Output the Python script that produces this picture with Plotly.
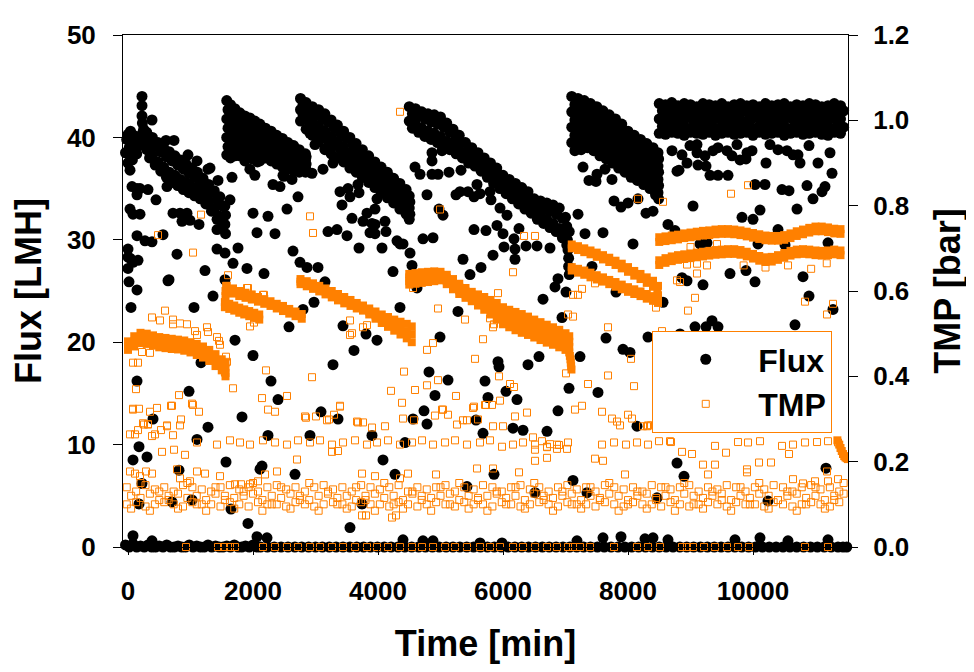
import plotly.graph_objects as go

# ── colours / fonts ──────────────────────────────────────────────────────────
ORANGE = "#FF8000"
FONT = "Arial, Liberation Sans, sans-serif"

# ── Flux [LMH] : dense bands of each filtration cycle ───────────────────────
# rows of readings share a list of sampling times (two interleaved time lists per cycle)
flux_c1_ta = [300, 390, 480, 570, 660, 750, 840, 930, 1020, 1110, 1200, 1290, 1380, 1470, 1550]
flux_c1_tb = [345, 435, 525, 615, 705, 795, 885, 975, 1065, 1155, 1245, 1335, 1425, 1510, 1560]
flux_c1_r1 = [40.5, 40.0, 39.5, 39.0, 38.6, 38.2, 37.8, 37.4, 37.0, 36.6, 36.0, 35.4, 34.8, 34.2, 33.3]
flux_c1_r2 = [39.6, 39.1, 38.6, 38.1, 37.7, 37.3, 36.9, 36.5, 36.1, 35.7, 35.2, 34.6, 33.9, 33.3, 32.4]
flux_c1_r3 = [38.8, 38.2, 37.6, 37.1, 36.6, 36.3, 35.9, 35.6, 35.2, 34.9, 34.4, 33.7, 33.0, 32.3, 31.5]
flux_c1_r4 = [38.0, 37.3, 36.7, 36.1, 35.6, 35.3, 34.9, 34.6, 34.3, 34.0, 33.5, 32.8, 32.0, 31.3, 30.6]
flux_c1_start = [(-40, 38.5), (-20, 39.8), (0, 37.5), (0, 40.3), (20, 39.0), (30, 38.2), (40, 40.6),
                 (60, 39.5), (70, 37.8), (90, 40.2), (100, 38.8), (120, 39.6), (140, 38.4), (160, 40.0),
                 (180, 39.2), (200, 39.8), (224, 44.0), (224, 43.1), (224, 42.1), (230, 41.4),
                 (230, 40.4), (250, 40.8), (270, 39.6)]

flux_c2_ta = [1580, 1640, 1710, 1790, 1870, 1950, 2030, 2110, 2200, 2290, 2380, 2470, 2560, 2650, 2740, 2840]
flux_c2_tb = [1600, 1675, 1750, 1830, 1910, 1990, 2070, 2155, 2245, 2335, 2425, 2515, 2605, 2695, 2790, 2850]
flux_c2_r1 = [43.6, 43.2, 42.8, 42.4, 42.1, 41.9, 41.6, 41.3, 40.9, 40.6, 40.2, 39.9, 39.5, 39.2, 38.8, 38.4]
flux_c2_r2 = [42.7, 42.4, 42.0, 41.7, 41.4, 41.2, 40.9, 40.6, 40.3, 40.0, 39.7, 39.4, 39.1, 38.8, 38.4, 38.1]
flux_c2_r3 = [41.8, 41.5, 41.2, 40.9, 40.7, 40.4, 40.1, 39.9, 39.6, 39.3, 39.1, 38.8, 38.6, 38.3, 38.0, 37.8]
flux_c2_r4 = [40.9, 40.6, 40.4, 40.2, 40.0, 39.6, 39.3, 39.4, 39.1, 38.9, 38.6, 38.3, 38.1, 37.8, 37.6, 37.4]
flux_c2_r5 = [40.0, 39.7, 39.6, 39.5, 39.2, 38.8, 38.5, 38.9, 38.7, 38.4, 38.1, 37.9, 37.6, 37.4, 37.2, 37.0]
flux_c2_r6 = [39.1, 38.9, 38.9, 38.8, 38.4, 37.9, 37.6, 38.3, 38.4, 38.1, 37.8, 37.5, 37.2, 37.0, 36.9, 36.8]
flux_c2_r7 = [38.3, 38.0, 38.2, 38.2, 37.7, 36.9, 36.3, 37.7, 38.0, 37.7, 37.4, 37.1, 36.9, 36.7, 36.6, 36.6]

flux_c3_ta = [2760, 2850, 2950, 3050, 3150, 3250, 3350, 3450, 3550, 3650, 3750, 3850, 3950, 4050, 4150, 4250, 4350, 4450, 4500]
flux_c3_tb = [2800, 2900, 3000, 3100, 3200, 3300, 3400, 3500, 3600, 3700, 3800, 3900, 4000, 4100, 4200, 4300, 4400, 4470, 4510]
flux_c3_r1 = [43.8, 43.4, 43.0, 42.7, 42.3, 41.7, 41.2, 40.6, 40.0, 39.4, 38.8, 38.2, 37.6, 37.1, 36.6, 36.0, 35.5, 34.9, 34.3]
flux_c3_r2 = [43.2, 42.8, 42.3, 41.9, 41.5, 40.9, 40.4, 39.9, 39.3, 38.7, 38.1, 37.6, 37.0, 36.5, 36.0, 35.4, 34.9, 34.3, 33.7]
flux_c3_r3 = [42.7, 42.1, 41.6, 41.1, 40.6, 40.1, 39.6, 39.1, 38.5, 38.0, 37.5, 37.0, 36.4, 35.9, 35.4, 34.8, 34.3, 33.7, 33.1]
flux_c3_r4 = [42.2, 41.5, 40.9, 40.3, 39.7, 39.2, 38.8, 38.3, 37.8, 37.3, 36.8, 36.3, 35.8, 35.3, 34.7, 34.2, 33.6, 33.1, 32.5]
flux_c3_r5 = [41.6, 40.8, 40.2, 39.6, 38.9, 38.4, 38.0, 37.6, 37.0, 36.6, 36.1, 35.6, 35.1, 34.6, 34.1, 33.6, 33.0, 32.5, 32.0]

flux_c4_ta = [4500, 4600, 4700, 4800, 4900, 5000, 5100, 5200, 5300, 5400, 5500, 5600, 5700, 5800, 5900, 6000,
              6100, 6200, 6300, 6400, 6500, 6600, 6700, 6800, 6900, 7000]
flux_c4_tb = [4550, 4650, 4750, 4850, 4950, 5050, 5150, 5250, 5350, 5450, 5550, 5650, 5750, 5850, 5950, 6050,
              6150, 6250, 6350, 6450, 6550, 6650, 6750, 6850, 6950, 7020]
flux_c4_r1 = [43.0, 42.8, 42.5, 42.3, 42.2, 42.0, 41.4, 40.8, 40.2, 39.5, 39.0, 38.5, 38.0, 37.5, 37.0, 36.3,
              35.9, 35.5, 35.1, 34.7, 34.0, 33.8, 33.6, 33.4, 33.1, 32.2]
flux_c4_r2 = [42.3, 42.1, 41.8, 41.5, 41.3, 41.0, 40.5, 40.0, 39.5, 38.8, 38.4, 37.9, 37.4, 36.8, 36.3, 35.7,
              35.3, 34.8, 34.4, 34.0, 33.3, 33.0, 32.8, 32.5, 32.1, 31.3]
flux_c4_r3 = [41.6, 41.3, 40.9, 40.6, 40.4, 40.1, 39.6, 39.2, 38.7, 38.1, 37.8, 37.3, 36.8, 36.2, 35.6, 35.1,
              34.6, 34.1, 33.7, 33.3, 32.6, 32.3, 32.0, 31.6, 31.1, 30.4]
flux_c4_r4 = [40.9, 40.5, 40.1, 39.8, 39.5, 39.2, 38.8, 38.4, 38.0, 37.5, 37.2, 36.7, 36.1, 35.5, 35.0, 34.5,
              34.0, 33.5, 33.0, 32.6, 32.0, 31.6, 31.2, 30.8, 30.2, 29.5]
flux_c4_tail = [(7030, 30.0), (7040, 29.0), (7050, 28.2), (7050, 27.4), (7060, 26.6), (7060, 30.8)]

flux_c5_ta = [7100, 7200, 7300, 7400, 7500, 7600, 7700, 7800, 7900, 8000, 8100, 8200, 8300, 8400, 8480]
flux_c5_tb = [7150, 7250, 7350, 7450, 7550, 7650, 7750, 7850, 7950, 8050, 8150, 8250, 8350, 8440, 8490]
flux_c5_r1 = [44.0, 43.8, 43.6, 43.3, 43.0, 42.6, 42.2, 41.8, 41.3, 40.6, 40.2, 39.8, 39.4, 39.0, 38.5]
flux_c5_r2 = [43.2, 43.1, 42.9, 42.6, 42.3, 41.9, 41.5, 41.1, 40.6, 40.0, 39.6, 39.2, 38.8, 38.3, 37.9]
flux_c5_r3 = [42.5, 42.4, 42.3, 41.9, 41.6, 41.2, 40.8, 40.4, 39.9, 39.3, 38.9, 38.5, 38.1, 37.7, 37.2]
flux_c5_r4 = [41.7, 41.7, 41.6, 41.3, 40.9, 40.5, 40.1, 39.7, 39.2, 38.7, 38.3, 37.9, 37.5, 37.0, 36.6]
flux_c5_r5 = [41.0, 41.0, 41.0, 40.6, 40.2, 39.8, 39.4, 39.0, 38.5, 38.0, 37.6, 37.2, 36.8, 36.3, 35.9]
flux_c5_r6 = [40.2, 40.3, 40.3, 40.0, 39.5, 39.2, 38.8, 38.3, 37.9, 37.4, 37.0, 36.6, 36.2, 35.7, 35.3]
flux_c5_r7 = [39.5, 39.5, 39.7, 39.3, 38.9, 38.5, 38.1, 37.7, 37.2, 36.7, 36.4, 36.0, 35.6, 35.0, 34.6]
flux_c5_r8 = [38.7, 38.8, 39.0, 38.7, 38.2, 37.9, 37.5, 37.0, 36.6, 36.1, 35.8, 35.4, 35.0, 34.4, 34.0]

flux_c6_ta = [8500, 8600, 8700, 8800, 8900, 9000, 9100, 9200, 9300, 9400, 9500, 9600, 9700, 9800, 9900,
              10000, 10100, 10200, 10300, 10400, 10500, 10600, 10700, 10800, 10900, 11000, 11100, 11200, 11300, 11400]
flux_c6_tb = [8550, 8650, 8750, 8850, 8950, 9050, 9150, 9250, 9350, 9450, 9550, 9650, 9750, 9850, 9950,
              10050, 10150, 10250, 10350, 10450, 10550, 10650, 10750, 10850, 10950, 11050, 11150, 11250, 11350, 11450]
flux_c6_r1 = [43.3, 43.2, 43.4, 43.1, 43.3, 43.2, 43.0, 43.3, 43.2, 43.1, 43.3, 43.0, 43.2, 43.3, 43.1,
              43.2, 43.0, 43.3, 43.1, 43.2, 43.3, 43.0, 43.2, 43.1, 43.3, 43.2, 43.0, 43.1, 43.3, 43.1]
flux_c6_r2 = [42.6, 42.5, 42.6, 42.4, 42.6, 42.5, 42.6, 42.4, 42.6, 42.5, 42.4, 42.6, 42.5, 42.6, 42.4,
              42.6, 42.5, 42.4, 42.6, 42.6, 42.5, 42.4, 42.6, 42.5, 42.6, 42.4, 42.6, 42.5, 42.4, 42.6]
flux_c6_r3 = [41.8, 41.7, 41.9, 41.7, 41.8, 41.9, 41.7, 41.8, 41.7, 41.9, 41.7, 41.8, 41.9, 41.7, 41.6,
              41.9, 41.8, 41.7, 41.9, 41.7, 41.8, 41.9, 41.7, 41.7, 41.9, 41.8, 41.6, 41.7, 41.9, 41.8]
flux_c6_r4 = [41.1, 41.0, 41.1, 41.0, 40.9, 41.1, 41.0, 41.0, 41.1, 40.9, 41.0, 41.1, 41.0, 41.0, 41.1,
              40.9, 41.1, 41.0, 41.0, 41.1, 40.9, 41.0, 41.1, 41.0, 41.0, 41.1, 41.0, 40.9, 41.1, 41.0]
flux_c6_r5 = [40.4, 40.3, 40.5, 40.4, 40.2, 40.5, 40.4, 40.3, 40.5, 40.2, 40.4, 40.5, 40.3, 40.4, 40.5,
              40.2, 40.5, 40.3, 40.4, 40.5, 40.2, 40.4, 40.5, 40.3, 40.4, 40.5, 40.3, 40.2, 40.5, 40.4]

# ── Flux : scattered readings (time, flux) ──────────────────────────────────
flux_scatter = [
    (32, 36.8), (64, 35.2), (144, 35.0), (144, 34.4), (32, 33.0), (80, 32.5), (0, 29.1), (32, 28.2),
    (80, 27.8), (0, 27.2), (16, 25.9), (144, 25.1), (144, 30.4), (272, 29.9), (384, 29.8), (192, 32.5),
    (192, 35.0), (320, 34.9), (384, 41.7), (448, 33.9), (560, 30.5), (608, 39.7), (736, 39.7), (624, 35.2),
    (640, 26.0), (784, 28.6), (720, 32.6), (832, 32.6), (944, 32.6), (864, 31.8), (992, 31.9), (1136, 31.5),
    (960, 38.3), (1104, 37.7), (1232, 27.0), (1280, 36.9), (1312, 37.0), (1440, 35.8), (1424, 31.0),
    (1552, 28.7), (1632, 33.9), (1664, 36.1), (1760, 29.2), (1904, 27.2), (2176, 26.7), (2000, 32.6),
    (2064, 30.7), (2240, 32.3), (2352, 30.6), (2320, 35.4), (2432, 35.2), (2496, 36.2), (2544, 33.0),
    (2624, 35.9), (2640, 28.9), (2720, 34.2), (2752, 27.8), (0, 28.3), (64, 28.0), (160, 28.0), (48, 23.4),
    (656, 26.1), (1056, 23.4), (1360, 24.5), (1424, 29.1), (1680, 27.7), (1712, 20.2), (2000, 18.7),
    (1168, 18.0), (976, 15.2), (144, 16.2), (1552, 26.1), (2864, 27.3), (3040, 27.3), (2976, 23.9),
    (2800, 23.2), (2576, 21.5), (3152, 25.9), (3440, 21.6), (3616, 19.2), (3808, 20.8), (3984, 20.2),
    (3280, 17.8), (4240, 26.9), (4352, 23.4), (4816, 17.1), (4624, 25.3), (4912, 14.8), (4544, 27.5),
    (3200, 30.8), (3344, 31.0), (3504, 30.4), (3584, 32.1), (3760, 31.8), (3824, 32.6), (3952, 31.5),
    (4112, 31.8), (4128, 30.8), (3696, 29.2), (4064, 29.2), (4304, 29.9), (4400, 29.6), (4512, 28.7),
    (4720, 30.1), (4880, 30.2),
    (2912, 40.4), (2992, 39.3), (3152, 38.8), (2944, 36.5), (3120, 36.9), (3280, 37.5), (2480, 36.3),
    (3392, 34.7), (3424, 33.4), (3552, 34.2), (3520, 35.0), (3680, 35.4), (3696, 34.6), (3952, 33.0),
    (3984, 34.0), (3904, 31.6), (3952, 30.6), (3872, 30.7), (4672, 36.4), (4784, 34.4), (4592, 37.1),
    (5040, 32.4), (4976, 33.0), (4864, 36.4), (4864, 37.7), (5024, 38.7), (5136, 36.6), (5248, 34.4),
    (5312, 34.7), (5440, 34.7), (5584, 35.4), (5536, 34.2), (5632, 34.5), (5792, 34.7), (5808, 33.9),
    (5536, 31.0), (5728, 30.9), (5904, 31.4), (6000, 30.6), (6176, 30.1), (5360, 28.1), (5648, 27.3),
    (5840, 28.5), (6016, 29.3), (6192, 29.1), (6192, 28.1), (6256, 31.1), (6368, 29.4), (6544, 29.4),
    (6752, 29.2), (6640, 24.2), (6832, 25.4), (7008, 24.9), (6880, 26.2), (7200, 32.5), (7312, 30.6),
    (7600, 30.7), (7280, 37.1), (7376, 35.8), (7488, 35.7), (7632, 36.9), (7648, 20.4), (7232, 18.6),
    (6576, 18.6), (5920, 18.1), (4992, 20.5), (5280, 23.0), (4864, 38.5), (4960, 36.4), (5328, 36.8),
    (5952, 33.1), (6064, 32.4), (5472, 26.6), (4352, 29.6), (8080, 29.6), (7776, 33.8), (7888, 33.2),
    (8000, 33.6), (8160, 34.0), (8288, 32.6), (8400, 32.8), (8640, 31.5), (7504, 36.4), (7744, 35.9),
    (8704, 38.7), (8784, 36.7),
    (8864, 38.3), (8944, 37.5), (8816, 36.8), (8992, 39.2), (9104, 39.3), (9104, 38.5), (9232, 38.2),
    (9120, 37.3), (9248, 37.2), (9360, 38.7), (9440, 39.0), (9584, 38.7), (9312, 36.3), (9440, 36.3),
    (9600, 36.3), (9664, 38.2), (9744, 39.3), (9904, 38.5), (9984, 38.7), (9792, 37.8), (9888, 37.9),
    (10032, 35.4), (10192, 35.4), (10208, 37.5), (10272, 39.3), (10400, 38.8), (10544, 38.7),
    (10640, 38.3), (10720, 38.3), (10464, 34.9), (10576, 34.8), (10752, 37.5), (10896, 39.2),
    (10864, 35.3), (11040, 37.5), (11104, 34.7), (11152, 35.2), (10960, 34.0), (11232, 38.5),
    (11264, 36.5), (9040, 33.3), (9824, 32.2), (10000, 32.0), (10704, 33.0), (10112, 32.9), (8752, 30.9),
    (9152, 29.6), (9264, 29.7), (10080, 29.6), (10512, 29.5), (11200, 29.7), (10400, 31.0), (9632, 26.7),
    (9888, 27.0), (10032, 25.9), (10800, 26.4), (10896, 24.5), (8864, 26.3), (8944, 26.0), (9200, 25.6),
    (8560, 23.9), (8832, 20.8), (9152, 18.9), (9808, 17.8), (10672, 21.7), (10944, 16.8), (11280, 23.2),
    (9472, 14.8), (10272, 16.4), (11168, 7.7),
    (5936, 17.6), (5712, 16.2), (6048, 15.2), (5760, 14.6), (6224, 14.4), (6400, 17.8), (7056, 15.5),
    (7520, 15.1), (6944, 22.4), (7920, 19.3), (8032, 19.0), (7424, 27.4), (7808, 24.9), (8320, 20.5),
    (9344, 22.1), (9440, 21.5), (9072, 21.5), (9248, 21.5), (9200, 17.9),
    (400, 12.5), (1280, 11.7), (2288, 16.2), (2400, 14.4), (1824, 12.7), (3088, 13.2), (3360, 12.5),
    (5120, 16.3), (4736, 13.3), (4560, 12.5), (4784, 12.0), (5568, 12.4),
    (80, 8.5), (176, 9.8), (224, 6.2), (304, 8.8), (176, 4.2), (704, 4.4), (816, 7.5), (1024, 4.6),
    (1104, 10.5), (1568, 8.3), (1648, 3.7), (1920, 2.3), (2112, 7.6), (2144, 7.9), (2240, 10.9),
    (2672, 7.1), (2912, 10.9), (3552, 1.9), (3744, 4.2), (3904, 10.9), (4080, 8.5), (4272, 7.1),
    (4432, 10.2), (5424, 5.9), (5680, 11.1), (5856, 7.1), (6160, 11.6), (6320, 11.4), (6704, 11.3),
    (6880, 13.3), (7120, 6.5), (6512, 5.3), (7344, 5.3), (8144, 11.8), (8784, 8.2), (8896, 6.9),
    (8464, 4.8), (10240, 4.5),
    (80, 1.1), (384, 0.6), (2064, 1.0), (2224, 0.9), (7600, 0.9), (7888, 1.0), (8272, 0.8), (8400, 0.9),
    (8640, 0.7), (9712, 0.7), (10112, 0.9), (10560, 0.6), (11200, 0.7), (4400, 0.7), (4720, 0.6),
    (4880, 0.6), (5632, 0.4), (5984, 0.4), (7184, 0.6),
]

# Flux readings sitting on zero (pump off)
flux_zero_t = [-40, 20, 80, 140, 200, 260, 320, 380, 440, 500, 560, 620, 680, 740, 800, 860, 920, 980,
               1040, 1100, 1160, 1220, 1280, 1340, 1400, 1460, 1520, 1580, 1640, 1700, 1760, 1820, 1880,
               1940, 2000, 2060, 2120, 2230, 2340, 2450, 2560, 2670, 2780, 2890, 3000, 3110, 3220, 3330,
               3440, 3550, 3660, 3770, 3880, 3990, 4100, 4210, 4320, 4430, 4540, 4650, 4760, 4870, 4980,
               5090, 5200, 5310, 5420, 5530, 5640, 5750, 5860, 5970, 6080, 6190, 6300, 6410, 6520, 6630,
               6740, 6850, 6960, 7070, 7180, 7290, 7400, 7510, 7620, 7730, 7840, 7950, 8060, 8170, 8280,
               8390, 8500, 8610, 8720, 8830, 8940, 9050, 9160, 9270, 9380, 9490, 9600, 9710, 9820, 9930,
               10040, 10150, 10260, 10370, 10480, 10590, 10700, 10810, 10920, 11030, 11140, 11250, 11360,
               11440, 11500]
flux_zero_v = [0.2, 0.0, 0.3, 0.0, 0.1, 0.0, 0.2, 0.0, 0.0, 0.1, 0.0, 0.2, 0.0, 0.0, 0.1, 0.0, 0.0, 0.2,
               0.0, 0.1, 0.0, 0.0, 0.2, 0.0, 0.1, 0.0, 0.0, 0.1, 0.0, 0.2, 0.0, 0.0, 0.1, 0.0, 0.2, 0.0,
               0.0, 0.0, 0.0, 0.0, 0.0, 0.0, 0.0, 0.0, 0.0, 0.0, 0.0, 0.0, 0.0, 0.0, 0.0, 0.0, 0.0, 0.0,
               0.0, 0.0, 0.0, 0.0, 0.0, 0.0, 0.0, 0.0, 0.0, 0.0, 0.0, 0.0, 0.0, 0.0, 0.0, 0.0, 0.0, 0.0,
               0.0, 0.0, 0.0, 0.0, 0.0, 0.0, 0.0, 0.0, 0.0, 0.0, 0.0, 0.0, 0.0, 0.0, 0.0, 0.0, 0.0, 0.0,
               0.0, 0.0, 0.0, 0.0, 0.0, 0.0, 0.0, 0.0, 0.0, 0.0, 0.0, 0.0, 0.0, 0.0, 0.0, 0.0, 0.0, 0.0,
               0.0, 0.0, 0.0, 0.0, 0.0, 0.0, 0.0, 0.0, 0.0, 0.0, 0.0, 0.0, 0.0, 0.0, 0.0]

# ── TMP [bar] : dense bands (shared time columns) ───────────────────────────
tmp_c1_t = [0, 100, 200, 300, 400, 500, 600, 700, 800, 900, 1000, 1100, 1200, 1300, 1400, 1500, 1560]
tmp_c1_r1 = [0.482, 0.494, 0.502, 0.500, 0.496, 0.492, 0.490, 0.488, 0.486, 0.484, 0.480, 0.476, 0.470, 0.462, 0.452, 0.440, 0.432]
tmp_c1_r2 = [0.472, 0.482, 0.490, 0.488, 0.484, 0.480, 0.478, 0.476, 0.474, 0.472, 0.468, 0.463, 0.457, 0.449, 0.438, 0.427, 0.420]
tmp_c1_r3 = [0.462, 0.470, 0.478, 0.476, 0.472, 0.468, 0.466, 0.464, 0.463, 0.460, 0.456, 0.450, 0.444, 0.436, 0.424, 0.414, 0.408]

tmp_c2_t = [1580, 1680, 1780, 1880, 1980, 2080, 2180, 2280, 2380, 2480, 2580, 2680, 2780]
tmp_c2_r1 = [0.612, 0.606, 0.600, 0.596, 0.592, 0.586, 0.581, 0.576, 0.570, 0.565, 0.558, 0.552, 0.546]
tmp_c2_r2 = [0.600, 0.594, 0.588, 0.584, 0.580, 0.575, 0.570, 0.565, 0.559, 0.553, 0.547, 0.541, 0.535]
tmp_c2b_t = [1550, 1620, 1700, 1780, 1860, 1940, 2020, 2100]
tmp_c2b_r1 = [0.574, 0.570, 0.566, 0.561, 0.557, 0.553, 0.549, 0.545]
tmp_c2b_r2 = [0.562, 0.558, 0.554, 0.549, 0.545, 0.541, 0.537, 0.533]

tmp_c3_t = [2760, 2860, 2960, 3060, 3160, 3260, 3360, 3460, 3560, 3660, 3760, 3860, 3960, 4060, 4160, 4260, 4360, 4460, 4540]
tmp_c3_r1 = [0.628, 0.623, 0.618, 0.612, 0.606, 0.600, 0.593, 0.586, 0.579, 0.572, 0.566, 0.559, 0.552, 0.545, 0.539, 0.533, 0.528, 0.523, 0.517]
tmp_c3_r2 = [0.622, 0.617, 0.611, 0.605, 0.599, 0.592, 0.585, 0.578, 0.572, 0.566, 0.560, 0.552, 0.543, 0.535, 0.527, 0.520, 0.513, 0.506, 0.499]
tmp_c3_r3 = [0.616, 0.611, 0.605, 0.599, 0.592, 0.585, 0.578, 0.571, 0.565, 0.559, 0.554, 0.545, 0.535, 0.525, 0.516, 0.507, 0.498, 0.489, 0.480]

tmp_c4_t = [4500, 4600, 4700, 4800, 4900, 5000, 5100, 5200, 5300, 5400, 5500, 5600, 5700, 5800, 5900, 6000,
            6100, 6200, 6300, 6400, 6500, 6600, 6700, 6800, 6900, 7000, 7060]
tmp_c4_r1 = [0.640, 0.642, 0.644, 0.645, 0.646, 0.645, 0.638, 0.628, 0.617, 0.607, 0.598, 0.592, 0.586, 0.579,
             0.572, 0.562, 0.556, 0.551, 0.546, 0.540, 0.533, 0.527, 0.521, 0.515, 0.509, 0.501, 0.494]
tmp_c4_r2 = [0.632, 0.634, 0.636, 0.637, 0.638, 0.638, 0.631, 0.620, 0.609, 0.599, 0.591, 0.583, 0.576, 0.568,
             0.559, 0.549, 0.542, 0.537, 0.531, 0.526, 0.519, 0.513, 0.507, 0.501, 0.495, 0.488, 0.481]
tmp_c4_r3 = [0.623, 0.625, 0.627, 0.629, 0.630, 0.632, 0.623, 0.612, 0.601, 0.592, 0.583, 0.574, 0.566, 0.556,
             0.546, 0.535, 0.528, 0.522, 0.516, 0.511, 0.505, 0.499, 0.493, 0.487, 0.481, 0.475, 0.469]
tmp_c4_r4 = [0.615, 0.617, 0.619, 0.621, 0.623, 0.625, 0.616, 0.604, 0.593, 0.584, 0.576, 0.566, 0.556, 0.545,
             0.533, 0.522, 0.515, 0.508, 0.502, 0.497, 0.491, 0.485, 0.479, 0.474, 0.468, 0.462, 0.456]

tmp_c5_t = [7100, 7200, 7300, 7400, 7500, 7600, 7700, 7800, 7900, 8000, 8100, 8200, 8300, 8400, 8480]
tmp_c5_r1 = [0.709, 0.705, 0.700, 0.695, 0.690, 0.684, 0.678, 0.671, 0.664, 0.656, 0.647, 0.640, 0.632, 0.624, 0.612]
tmp_c5_r2 = [0.700, 0.696, 0.691, 0.686, 0.680, 0.674, 0.668, 0.661, 0.653, 0.645, 0.636, 0.628, 0.619, 0.610, 0.590]
tmp_c5_r3 = [0.656, 0.652, 0.648, 0.643, 0.637, 0.632, 0.626, 0.621, 0.615, 0.609, 0.604, 0.599, 0.593, 0.588, 0.582]
tmp_c5_r4 = [0.648, 0.643, 0.638, 0.632, 0.627, 0.622, 0.616, 0.610, 0.604, 0.598, 0.593, 0.588, 0.582, 0.577, 0.572]

tmp_c6_t = [8500, 8600, 8700, 8800, 8900, 9000, 9100, 9200, 9300, 9400, 9500, 9600, 9700, 9800, 9900,
            10000, 10100, 10200, 10300, 10400, 10500, 10600, 10700, 10800, 10900, 11000, 11100, 11200, 11300, 11400]
tmp_c6_r1 = [0.726, 0.728, 0.730, 0.732, 0.735, 0.737, 0.739, 0.741, 0.742, 0.744, 0.745, 0.745, 0.744, 0.742, 0.739,
             0.736, 0.733, 0.730, 0.729, 0.729, 0.731, 0.735, 0.740, 0.744, 0.748, 0.751, 0.751, 0.749, 0.746, 0.745]
tmp_c6_r2 = [0.715, 0.717, 0.719, 0.721, 0.724, 0.726, 0.728, 0.730, 0.731, 0.733, 0.734, 0.734, 0.733, 0.731, 0.728,
             0.725, 0.722, 0.719, 0.718, 0.718, 0.720, 0.724, 0.729, 0.733, 0.737, 0.740, 0.740, 0.738, 0.735, 0.734]
tmp_c6_r3 = [0.672, 0.677, 0.681, 0.684, 0.686, 0.688, 0.690, 0.692, 0.694, 0.696, 0.697, 0.698, 0.698, 0.696, 0.692,
             0.687, 0.682, 0.679, 0.680, 0.684, 0.689, 0.694, 0.697, 0.698, 0.697, 0.695, 0.694, 0.695, 0.697, 0.695]
tmp_c6_r4 = [0.661, 0.666, 0.670, 0.673, 0.675, 0.677, 0.679, 0.681, 0.683, 0.685, 0.686, 0.687, 0.687, 0.685, 0.681,
             0.676, 0.671, 0.668, 0.669, 0.673, 0.678, 0.683, 0.686, 0.687, 0.686, 0.684, 0.683, 0.684, 0.686, 0.684]

tmp_band_extra = [(1560, 0.600), (1560, 0.588), (1570, 0.612), (1550, 0.410), (1560, 0.400),
                  (7070, 0.448), (7080, 0.440), (7085, 0.432), (7090, 0.424), (7095, 0.416),
                  (8480, 0.578), (8470, 0.600),
                  (11350, 0.250), (11380, 0.240), (11400, 0.232), (11420, 0.225), (11440, 0.218),
                  (11460, 0.213), (11480, 0.210), (11500, 0.208), (11520, 0.206)]

# ── TMP : low, backwash-phase readings (open squares) ───────────────────────
tmp_low_t1 = [-20, 130, 280, 430, 580, 730, 880, 1030, 1180, 1330, 1480, 1630, 1780, 1930, 2080, 2230, 2380,
              2530, 2680, 2830, 2980, 3130, 3280, 3430, 3580, 3730, 3880, 4030, 4180, 4330, 4480, 4630, 4780,
              4930, 5080, 5230, 5380, 5530, 5680, 5830, 5980, 6130, 6280, 6430, 6580, 6730, 6880, 7030, 7180,
              7330, 7480, 7630, 7780, 7930, 8080, 8230, 8380, 8530, 8680, 8830, 8980, 9130, 9280, 9430, 9580,
              9730, 9880, 10030, 10180, 10330, 10480, 10630, 10780, 10930, 11080, 11230, 11380]
tmp_low_t2 = [50, 200, 350, 500, 650, 800, 950, 1100, 1250, 1400, 1550, 1700, 1850, 2000, 2150, 2300, 2450,
              2600, 2750, 2900, 3050, 3200, 3350, 3500, 3650, 3800, 3950, 4100, 4250, 4400, 4550, 4700, 4850,
              5000, 5150, 5300, 5450, 5600, 5750, 5900, 6050, 6200, 6350, 6500, 6650, 6800, 6950, 7100, 7250,
              7400, 7550, 7700, 7850, 8000, 8150, 8300, 8450, 8600, 8750, 8900, 9050, 9200, 9350, 9500, 9650,
              9800, 9950, 10100, 10250, 10400, 10550, 10700, 10850, 11000, 11150, 11300, 11450]
tmp_low_a = [0.14, 0.13, 0.145, 0.135, 0.14, 0.13, 0.145, 0.14, 0.135, 0.13, 0.14, 0.145, 0.135, 0.14, 0.13, 0.14,
             0.145, 0.135, 0.14, 0.13, 0.14, 0.145, 0.135, 0.14, 0.13, 0.145, 0.14, 0.135, 0.14, 0.145, 0.13, 0.14,
             0.135, 0.14, 0.145, 0.13, 0.14, 0.135, 0.145, 0.14, 0.13, 0.14, 0.145, 0.135, 0.14, 0.13, 0.14, 0.145,
             0.135, 0.14, 0.13, 0.145, 0.14, 0.135, 0.14, 0.13, 0.145, 0.14, 0.135, 0.14, 0.145, 0.13, 0.14, 0.135,
             0.145, 0.14, 0.13, 0.14, 0.135, 0.145, 0.14, 0.13, 0.14, 0.145, 0.135, 0.14, 0.13]
tmp_low_b = [0.12, 0.115, 0.125, 0.11, 0.12, 0.125, 0.115, 0.12, 0.11, 0.125, 0.12, 0.115, 0.12, 0.125, 0.11, 0.12,
             0.115, 0.125, 0.12, 0.11, 0.12, 0.125, 0.115, 0.12, 0.11, 0.12, 0.125, 0.115, 0.12, 0.11, 0.125, 0.12,
             0.115, 0.12, 0.125, 0.11, 0.12, 0.115, 0.12, 0.125, 0.115, 0.12, 0.11, 0.125, 0.12, 0.115, 0.12, 0.125,
             0.11, 0.12, 0.115, 0.125, 0.12, 0.11, 0.12, 0.125, 0.115, 0.12, 0.11, 0.125, 0.12, 0.115, 0.12, 0.125,
             0.11, 0.12, 0.115, 0.125, 0.12, 0.11, 0.12, 0.125, 0.115, 0.12, 0.11, 0.12, 0.125]
tmp_low_c = [0.1, 0.105, 0.095, 0.1, 0.105, 0.1, 0.095, 0.105, 0.1, 0.1, 0.095, 0.105, 0.1, 0.095, 0.105, 0.1,
             0.1, 0.095, 0.105, 0.1, 0.095, 0.1, 0.105, 0.1, 0.095, 0.105, 0.1, 0.1, 0.095, 0.105, 0.1, 0.095,
             0.1, 0.105, 0.1, 0.095, 0.105, 0.1, 0.1, 0.095, 0.105, 0.1, 0.095, 0.1, 0.105, 0.1, 0.095, 0.105,
             0.1, 0.1, 0.095, 0.105, 0.1, 0.095, 0.105, 0.1, 0.1, 0.095, 0.105, 0.1, 0.095, 0.1, 0.105, 0.1,
             0.095, 0.105, 0.1, 0.1, 0.095, 0.105, 0.1, 0.095, 0.1, 0.105, 0.1, 0.095, 0.105]
tmp_low_d = [0.09, 0.15, 0.085, 0.13, 0.11, 0.09, 0.15, 0.1, 0.085, 0.14, 0.11, 0.09, 0.13, 0.15, 0.085, 0.1,
             0.14, 0.09, 0.11, 0.15, 0.085, 0.13, 0.1, 0.09, 0.14, 0.11, 0.085, 0.15, 0.1, 0.09, 0.13, 0.11,
             0.085, 0.14, 0.1, 0.15, 0.09, 0.11, 0.085, 0.13, 0.1, 0.14, 0.09, 0.15, 0.11, 0.085, 0.13, 0.1,
             0.09, 0.14, 0.11, 0.15, 0.085, 0.1, 0.13, 0.09, 0.11, 0.14, 0.085, 0.15, 0.1, 0.09, 0.13, 0.11,
             0.085, 0.14, 0.1, 0.15, 0.09, 0.11, 0.13, 0.085, 0.1, 0.14, 0.09, 0.11, 0.15]

tmp_row25_t = [1104, 1424, 1632, 1792, 1952, 2160, 2352, 2544, 2720, 2912, 3072, 3264, 3440, 3632, 3824, 3984,
               4160, 4352, 4544, 4704, 4880, 5072, 5232, 5424, 5632, 5792, 5984, 6160, 6320, 6512, 6704, 6864,
               7040, 7584, 7776, 7968, 8144, 8320, 8496, 8688, 9760, 9920, 10112, 10640, 10832, 11024, 11200, 11360]
tmp_row25_v = [0.245, 0.24, 0.25, 0.245, 0.24, 0.25, 0.245, 0.24, 0.25, 0.245, 0.25, 0.24, 0.245, 0.25, 0.24, 0.245,
               0.25, 0.24, 0.245, 0.25, 0.24, 0.245, 0.25, 0.24, 0.245, 0.25, 0.235, 0.24, 0.245, 0.24, 0.235, 0.24,
               0.245, 0.24, 0.245, 0.24, 0.245, 0.24, 0.248, 0.246, 0.246, 0.245, 0.248, 0.24, 0.245, 0.246, 0.248, 0.245]

tmp_zero_t = [928, 1440, 1536, 1632, 1712, 2160, 2352, 2544, 2720, 2912, 3072, 3264, 3440, 3632, 3824, 3984, 4160,
              4352, 4544, 4704, 4880, 5072, 5232, 5424, 5632, 5792, 5952, 6160, 6320, 6512, 6704, 6864, 7040, 7120,
              7232, 7392, 7776, 8144, 8320, 8512, 8864, 8944, 9040, 9216, 9392, 9584, 9760, 9936, 10832, 11200]
tmp_zero_v = [0.0, 0.0, 0.0, 0.0, 0.0, 0.0, 0.0, 0.0, 0.0, 0.0, 0.0, 0.0, 0.0, 0.0, 0.0, 0.0, 0.0,
              0.0, 0.0, 0.0, 0.0, 0.0, 0.0, 0.0, 0.0, 0.0, 0.0, 0.0, 0.0, 0.0, 0.0, 0.0, 0.0, 0.0,
              0.0, 0.0, 0.0, 0.0, 0.0, 0.0, 0.0, 0.0, 0.0, 0.0, 0.0, 0.0, 0.0, 0.0, 0.0, 0.0]

tmp_scatter = [
    (4352, 1.02), (8160, 0.816), (8560, 0.809), (9648, 0.828), (9920, 0.848),
    (2912, 0.775), (2960, 0.736), (4992, 0.791), (6336, 0.729), (6512, 0.729), (6160, 0.644),
    (1168, 0.779), (480, 0.731), (1040, 0.69), (1600, 0.637), (1920, 0.607), (2176, 0.591), (4560, 0.607),
    (384, 0.538), (512, 0.531), (592, 0.554), (720, 0.533), (720, 0.522), (832, 0.524), (944, 0.522),
    (1072, 0.506), (1104, 0.497), (1264, 0.515), (1280, 0.504), (1424, 0.492), (1456, 0.483), (1472, 0.474),
    (80, 0.432), (160, 0.432), (224, 0.457), (352, 0.455), (128, 0.37), (80, 0.324), (176, 0.324),
    (816, 0.356), (688, 0.331), (1024, 0.336), (1136, 0.317), (240, 0.29), (320, 0.288), (624, 0.285),
    (832, 0.285), (1568, 0.446), (1584, 0.434), (1680, 0.372), (2144, 0.349), (2208, 0.414), (2240, 0.322),
    (2352, 0.317), (2544, 0.354), (2944, 0.398), (2832, 0.306), (3008, 0.306), (3184, 0.297), (3296, 0.31),
    (3392, 0.331), (3552, 0.497), (1904, 0.607), (1952, 0.517), (2016, 0.526), (2064, 0.536), (2160, 0.591),
    (3552, 0.531), (3584, 0.501), (3760, 0.515), (3824, 0.52), (4960, 0.559), (5392, 0.533), (5680, 0.487),
    (4784, 0.462), (4880, 0.478), (5552, 0.441), (5840, 0.515), (5856, 0.522), (5920, 0.595), (7120, 0.54),
    (7040, 0.545), (7120, 0.591), (7264, 0.605), (7200, 0.591), (7680, 0.515), (7472, 0.618),
    (4416, 0.411), (4208, 0.366), (4384, 0.338), (4592, 0.368), (4784, 0.379), (4960, 0.391), (5248, 0.354),
    (5536, 0.329), (5728, 0.333), (5040, 0.322), (5120, 0.31), (3664, 0.294), (3760, 0.292), (3904, 0.28),
    (5264, 0.287), (5424, 0.297), (5952, 0.343), (5936, 0.4), (6112, 0.382), (6176, 0.375), (5792, 0.536),
    (7008, 0.407), (7360, 0.382), (7680, 0.402), (8048, 0.441), (8096, 0.377), (8960, 0.554), (8544, 0.506),
    (8448, 0.561), (11184, 0.545), (9000, 0.703), (9104, 0.664), (8944, 0.662), (9264, 0.66), (9424, 0.71),
    (9104, 0.641), (9072, 0.584), (8832, 0.621), (8784, 0.625), (10832, 0.575), (11280, 0.57), (9850, 0.66),
    (10200, 0.655), (10560, 0.66), (10930, 0.652), (11180, 0.665),
    (80, 0.322), (352, 0.317), (464, 0.326), (704, 0.331), (848, 0.299), (1040, 0.333), (2848, 0.303),
    (3216, 0.299), (3392, 0.329), (3680, 0.292), (4112, 0.283), (4400, 0.301), (4576, 0.297), (4912, 0.308),
    (5024, 0.322), (5360, 0.297), (5520, 0.326), (5600, 0.299), (5712, 0.333), (5840, 0.283),
    (256, 0.287), (320, 0.287), (528, 0.274), (624, 0.283), (384, 0.26), (432, 0.264), (720, 0.262),
    (32, 0.264), (112, 0.264), (160, 0.274),
    (544, 0.223), (736, 0.228), (912, 0.216), (784, 0.182), (832, 0.161), (992, 0.154), (1104, 0.177),
    (1232, 0.172), (1472, 0.166), (1712, 0.147), (1808, 0.147), (1952, 0.147), (2080, 0.154), (2192, 0.17),
    (2384, 0.177), (2704, 0.205), (3264, 0.223), (3360, 0.225), (3744, 0.172), (3952, 0.166), (4352, 0.161),
    (4480, 0.172), (4928, 0.17), (5584, 0.184), (5840, 0.184), (32, 0.177), (112, 0.172), (192, 0.166),
    (288, 0.177), (384, 0.172), (3808, 0.074), (3744, 0.074), (4288, 0.074), (4224, 0.069),
    (5824, 0.333), (6000, 0.283), (6192, 0.306), (6384, 0.315), (6480, 0.257), (6624, 0.248), (6752, 0.241),
    (6896, 0.239), (7024, 0.23), (6512, 0.228), (6704, 0.234), (6864, 0.23), (6512, 0.202), (6704, 0.209),
    (6256, 0.175), (7152, 0.322), (7264, 0.331), (7584, 0.317), (7744, 0.301), (7824, 0.294), (7872, 0.285),
    (8000, 0.31), (8064, 0.301), (8240, 0.283), (8304, 0.283), (7472, 0.207), (7600, 0.202), (7952, 0.17),
    (8864, 0.223), (9024, 0.218), (9200, 0.193), (9392, 0.193), (9280, 0.17), (9392, 0.237), (9568, 0.221),
    (9904, 0.182), (9904, 0.175), (10096, 0.198), (10288, 0.198), (10464, 0.237), (10576, 0.218),
    (10640, 0.159), (10800, 0.149), (10992, 0.154), (11200, 0.154), (11360, 0.159), (11184, 0.177),
    (8320, 0.285), (8368, 0.285), (8672, 0.248),
]


def stack(ts, *rows):
    """Pair one list of times with several rows of readings."""
    xs, ys = [], []
    for row in rows:
        n = min(len(ts), len(row))
        xs += ts[:n]
        ys += row[:n]
    return xs, ys


def unzip(pairs):
    return [p[0] for p in pairs], [p[1] for p in pairs]


def join(parts):
    xs, ys = [], []
    for px, py in parts:
        xs += px
        ys += py
    return xs, ys


# ── assemble series ─────────────────────────────────────────────────────────
flux_x, flux_y = join([
    stack(flux_zero_t, flux_zero_v),
    unzip(flux_c1_start),
    stack(flux_c1_ta, flux_c1_r1, flux_c1_r3),
    stack(flux_c1_tb, flux_c1_r2, flux_c1_r4),
    stack(flux_c2_ta, flux_c2_r1, flux_c2_r3, flux_c2_r5, flux_c2_r7),
    stack(flux_c2_tb, flux_c2_r2, flux_c2_r4, flux_c2_r6),
    stack(flux_c3_ta, flux_c3_r1, flux_c3_r3, flux_c3_r5),
    stack(flux_c3_tb, flux_c3_r2, flux_c3_r4),
    stack(flux_c4_ta, flux_c4_r1, flux_c4_r3),
    stack(flux_c4_tb, flux_c4_r2, flux_c4_r4),
    unzip(flux_c4_tail),
    stack(flux_c5_ta, flux_c5_r1, flux_c5_r3, flux_c5_r5, flux_c5_r7),
    stack(flux_c5_tb, flux_c5_r2, flux_c5_r4, flux_c5_r6, flux_c5_r8),
    stack(flux_c6_ta, flux_c6_r1, flux_c6_r3, flux_c6_r5),
    stack(flux_c6_tb, flux_c6_r2, flux_c6_r4),
    unzip(flux_scatter),
])

tmp_x, tmp_y = join([
    stack(tmp_low_t1, tmp_low_a, tmp_low_c),
    stack(tmp_low_t2, tmp_low_b, tmp_low_d),
    stack(tmp_row25_t, tmp_row25_v),
    stack(tmp_zero_t, tmp_zero_v),
    unzip(tmp_scatter),
])

band_x, band_y = join([
    stack(tmp_c1_t, tmp_c1_r1, tmp_c1_r2, tmp_c1_r3),
    stack(tmp_c2_t, tmp_c2_r1, tmp_c2_r2),
    stack(tmp_c2b_t, tmp_c2b_r1, tmp_c2b_r2),
    stack(tmp_c3_t, tmp_c3_r1, tmp_c3_r2, tmp_c3_r3),
    stack(tmp_c4_t, tmp_c4_r1, tmp_c4_r2, tmp_c4_r3, tmp_c4_r4),
    stack(tmp_c5_t, tmp_c5_r1, tmp_c5_r2, tmp_c5_r3, tmp_c5_r4),
    stack(tmp_c6_t, tmp_c6_r1, tmp_c6_r2, tmp_c6_r3, tmp_c6_r4),
    unzip(tmp_band_extra),
])

# ── figure ──────────────────────────────────────────────────────────────────
fig = go.Figure()
fig.add_trace(go.Scatter(
    x=flux_x, y=flux_y, mode="markers", name="Flux", cliponaxis=False,
    marker=dict(symbol="circle", size=11, color="black"),
))
fig.add_trace(go.Scatter(
    x=tmp_x, y=tmp_y, yaxis="y2", mode="markers", name="TMP", cliponaxis=False,
    marker=dict(symbol="square-open", size=7, color=ORANGE, line=dict(width=1, color=ORANGE)),
))
fig.add_trace(go.Scatter(
    x=band_x, y=band_y, yaxis="y2", mode="markers", name="TMP", showlegend=False,
    marker=dict(symbol="square", size=8, color=ORANGE),
))

tick_font = dict(family=FONT, size=26, color="black", weight="bold")
title_font = dict(family=FONT, size=36, color="black", weight="bold")
axis_common = dict(showgrid=False, zeroline=False, showline=True, linecolor="black", linewidth=1,
                   ticks="outside", tickcolor="black", tickwidth=1, tickfont=tick_font)

# the page body keeps an 8 px margin, so the figure is 8 px smaller on each axis
fig.update_layout(
    width=966, height=664,
    margin=dict(l=115, r=126, t=17, b=125),
    plot_bgcolor="white",
    paper_bgcolor="white",
    xaxis=dict(range=[-80, 11520], tickvals=[0, 2000, 4000, 6000, 8000, 10000], tickformat="d",
               ticklen=7, mirror=True, ticklabelstandoff=14,
               title=dict(text="Time [min]", font=title_font, standoff=25), **axis_common),
    yaxis=dict(range=[0, 50], tickvals=[0, 10, 20, 30, 40, 50], ticklen=9, ticklabelstandoff=12,
               title=dict(text="Flux [LMH]", font=title_font, standoff=18), **axis_common),
    yaxis2=dict(range=[0, 1.2], tickvals=[0, 0.2, 0.4, 0.6, 0.8, 1.0, 1.2], tickformat=".1f",
                overlaying="y", side="right", ticklen=9, ticklabelstandoff=10,
                title=dict(text="TMP [bar]", font=title_font, standoff=25), **axis_common),
    legend=dict(x=0.73, y=0.422, xanchor="left", yanchor="top", bgcolor="white",
                bordercolor=ORANGE, borderwidth=1, itemwidth=95,
                font=dict(family=FONT, size=32, color="black", weight="bold")),
)

fig.write_html("out.html")
